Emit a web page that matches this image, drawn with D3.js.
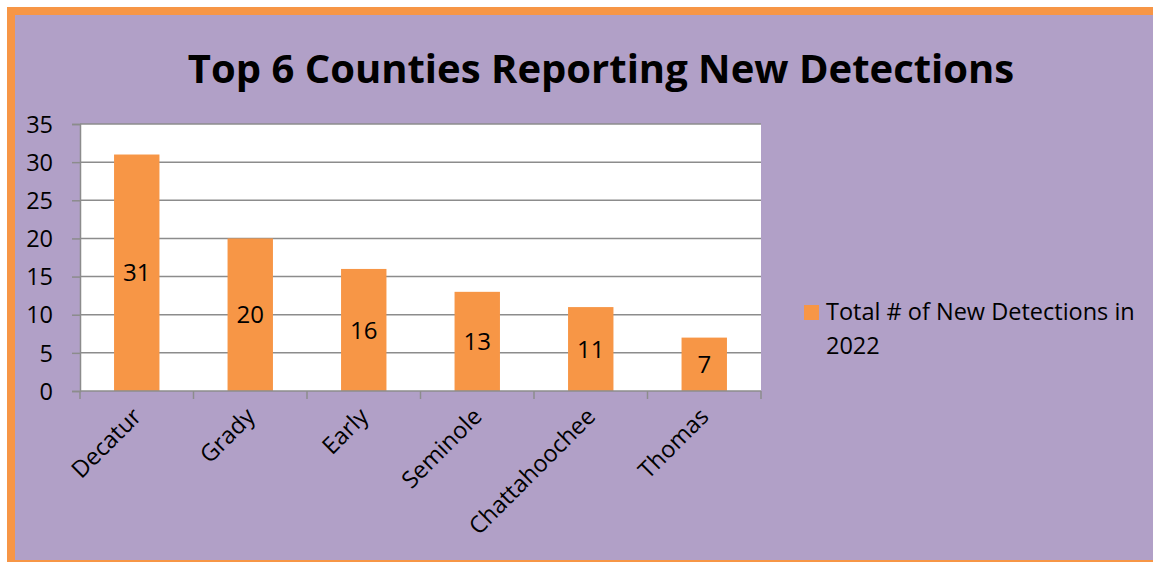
<!DOCTYPE html>
<html><head><meta charset="utf-8">
<script src="https://cdn.jsdelivr.net/npm/d3@7"></script>
<style>body{margin:0;background:#fff;} svg{display:block;}</style>
</head><body>
<svg id="c" width="1153" height="562"></svg>
<script>
const categories = ["Decatur","Grady","Early","Seminole","Chattahoochee","Thomas"];
const values = [31,20,16,13,11,7];
const yTicks = [0,5,10,15,20,25,30,35];
const title = "Top 6 Counties Reporting New Detections";
const legendLines = ["Total # of New Detections in","2022"];

const font = "'Open Sans', sans-serif";
const purple = "#B1A0C7", orange = "#F79646", grid = "#8c8c8c";
const svg = d3.select("#c");
svg.append("rect").attr("x",7).attr("y",7).attr("width",1153).attr("height",562).attr("fill",orange);
svg.append("rect").attr("x",15).attr("y",15).attr("width",1153).attr("height",545).attr("fill",purple);

svg.append("text").attr("x",601).attr("y",83).attr("text-anchor","middle")
  .attr("font-family",font).attr("font-weight","bold").attr("font-size",40).text(title);

const L=80,R=761,T=124,B=391;
const xb = d3.scaleBand().domain(categories).range([L,R]);
const y = d3.scaleLinear().domain([0,35]).range([B,T]);

svg.append("rect").attr("x",L).attr("y",T).attr("width",R-L).attr("height",B-T).attr("fill","#fff");
const ya = svg.append("g").attr("transform",`translate(${L},0)`)
  .call(d3.axisLeft(y).tickValues(yTicks).tickSize(8).tickPadding(19));
ya.select(".domain").attr("stroke",grid).attr("stroke-width",1.5);
ya.selectAll(".tick line").attr("stroke",grid).attr("stroke-width",1.5);
ya.selectAll(".tick text").attr("font-family",font).attr("font-size",23.5).attr("fill","#000").attr("dy","0.35em");

svg.append("g").selectAll("line").data(yTicks.filter(d=>d>0)).join("line")
  .attr("x1",L).attr("x2",R).attr("y1",d=>y(d)).attr("y2",d=>y(d))
  .attr("stroke",grid).attr("stroke-width",1.5);

svg.append("g").selectAll("rect").data(values).join("rect")
  .attr("x",(d,i)=>xb(categories[i])+xb.bandwidth()*0.3).attr("width",xb.bandwidth()*0.4)
  .attr("y",d=>y(d)).attr("height",d=>B-y(d)).attr("fill",orange);

svg.append("g").selectAll("text").data(values).join("text")
  .attr("x",(d,i)=>xb(categories[i])+xb.bandwidth()/2)
  .attr("y",d=>(y(d)+B)/2).attr("dy","0.36em").attr("text-anchor","middle")
  .attr("font-family",font).attr("font-size",24).attr("fill","#000").text(d=>d);

// x axis
const xa = svg.append("g");
xa.append("line").attr("x1",L).attr("x2",R).attr("y1",B).attr("y2",B).attr("stroke",grid).attr("stroke-width",1.5);
const edges = categories.map(c=>xb(c)).concat([R]);
xa.selectAll("line.t").data(edges).join("line").attr("class","t")
  .attr("x1",d=>d).attr("x2",d=>d).attr("y1",B).attr("y2",B+8).attr("stroke",grid).attr("stroke-width",1.5);
xa.selectAll("text").data(categories).join("text")
  .attr("transform",c=>`translate(${xb(c)+xb.bandwidth()/2+6},${B+27}) rotate(-45)`)
  .attr("text-anchor","end").attr("font-family",font).attr("font-size",23.5).attr("fill","#000").text(c=>c);

// legend
svg.append("rect").attr("x",804).attr("y",305).attr("width",15).attr("height",15).attr("fill",orange);
svg.append("g").selectAll("text").data(legendLines).join("text")
  .attr("x",826).attr("y",(d,i)=>320+i*34)
  .attr("font-family",font).attr("font-size",23.5).attr("fill","#000").text(d=>d);
</script>
</body></html>
